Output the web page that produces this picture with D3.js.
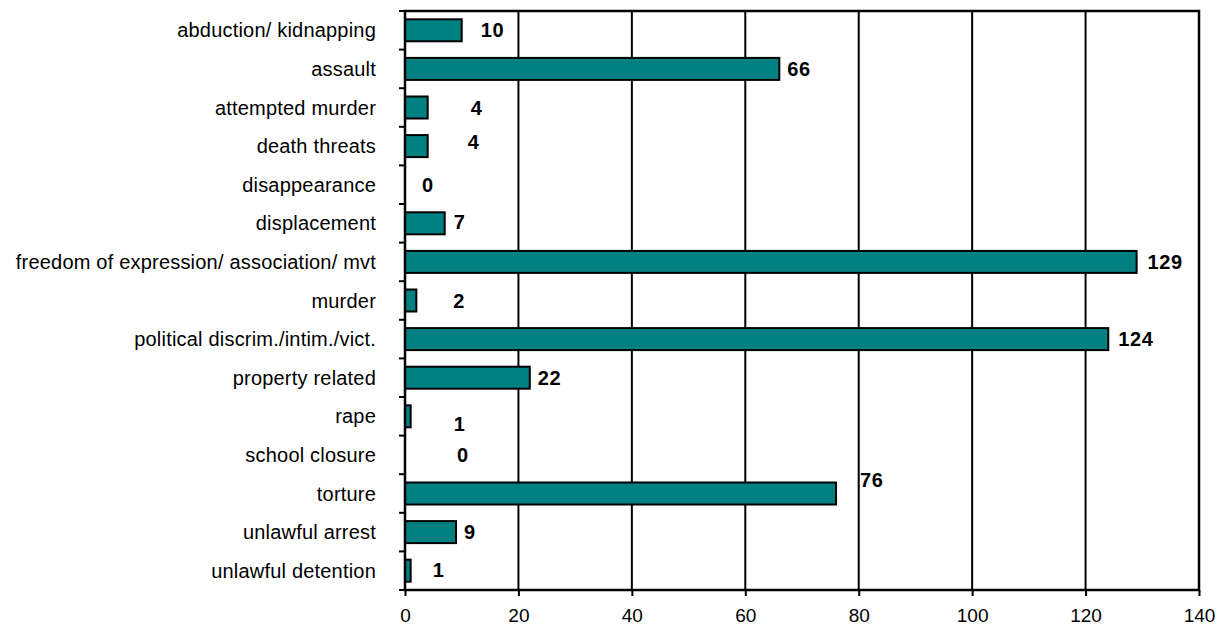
<!DOCTYPE html>
<html lang="en">
<head>
<meta charset="UTF-8">
<title>Incidents by type</title>
<script src="https://d3js.org/d3.v7.min.js"></script>
<style>
    body { margin: 0; background: #fff; }
    svg text { font-family: "Liberation Sans", Arial, sans-serif; fill: #000; }
    .cat { font-size: 20px; letter-spacing: 0.2px; }
    .tick-label { font-size: 19px; }
    .val { font-size: 20px; font-weight: bold; letter-spacing: 0.6px; }
</style>
</head>
<body>
<div id="chart"></div>
<script>
    const categories = [
        "abduction/ kidnapping", "assault", "attempted murder", "death threats",
        "disappearance", "displacement", "freedom of expression/ association/ mvt",
        "murder", "political discrim./intim./vict.", "property related", "rape",
        "school closure", "torture", "unlawful arrest", "unlawful detention"
    ];
    const counts = [10, 66, 4, 4, 0, 7, 129, 2, 124, 22, 1, 0, 76, 9, 1];
    const xTicks = [0, 20, 40, 60, 80, 100, 120, 140];

    // label nudges (px) from the bar end, like the original's hand-placed labels
    const labelNudge = [
        [19, 0], [8, 0], [43, 0], [40, -4], [17, 0], [9, -1], [11, 0], [37, 0],
        [10, 0], [8, 0], [43, 8], [52, 0], [24, -14], [8, 0], [22, -1]
    ];

    const rows = categories.map((c, i) => ({ cat: c, value: counts[i], nudge: labelNudge[i] }));

    const width = 1221, height = 625;
    const margin = { top: 11, right: 22, bottom: 35, left: 405 };

    const svg = d3.select("#chart").append("svg")
        .attr("width", width).attr("height", height);

    const x = d3.scaleLinear().domain([0, 140]).range([margin.left, width - margin.right]);
    const y = d3.scaleBand().domain(categories)
        .range([margin.top, height - margin.bottom])
        .paddingInner(0.43).paddingOuter(0.215);
    const band = d3.scaleBand().domain(categories).range([margin.top, height - margin.bottom]);

    // vertical gridlines
    svg.append("g")
        .selectAll("line")
        .data(xTicks.slice(1, -1))
        .enter().append("line")
        .attr("x1", d => x(d)).attr("x2", d => x(d))
        .attr("y1", margin.top).attr("y2", height - margin.bottom)
        .attr("stroke", "#000").attr("stroke-width", 2);

    // bars
    svg.append("g")
        .selectAll("rect")
        .data(rows.filter(d => d.value > 0))
        .enter().append("rect")
        .attr("x", x(0))
        .attr("y", d => y(d.cat))
        .attr("width", d => x(d.value) - x(0))
        .attr("height", y.bandwidth())
        .attr("fill", "#008080")
        .attr("stroke", "#000").attr("stroke-width", 2);

    // plot frame
    svg.append("rect")
        .attr("x", margin.left).attr("y", margin.top)
        .attr("width", x(140) - x(0))
        .attr("height", height - margin.bottom - margin.top)
        .attr("fill", "none").attr("stroke", "#000").attr("stroke-width", 2.5);

    // bottom axis
    const xAxis = svg.append("g")
        .attr("transform", `translate(0,${height - margin.bottom})`)
        .call(d3.axisBottom(x).tickValues(xTicks).tickSize(6).tickPadding(13));
    xAxis.select(".domain").remove();
    xAxis.selectAll("line").attr("stroke", "#000").attr("stroke-width", 2);
    xAxis.selectAll("text").attr("class", "tick-label").attr("font-family", null).attr("font-size", null);

    // left axis: ticks at category boundaries
    const bounds = categories.map(c => band(c)).concat([height - margin.bottom]);
    svg.append("g")
        .selectAll("line")
        .data(bounds)
        .enter().append("line")
        .attr("x1", x(0) - 6).attr("x2", x(0))
        .attr("y1", d => d).attr("y2", d => d)
        .attr("stroke", "#000").attr("stroke-width", 2);

    svg.append("g")
        .selectAll("text")
        .data(categories)
        .enter().append("text")
        .attr("class", "cat")
        .attr("x", 376)
        .attr("y", d => band(d) + band.bandwidth() / 2)
        .attr("dy", "0.35em")
        .attr("text-anchor", "end")
        .text(d => d);

    // value labels
    svg.append("g")
        .selectAll("text")
        .data(rows)
        .enter().append("text")
        .attr("class", "val")
        .attr("x", d => x(d.value) + d.nudge[0])
        .attr("y", d => band(d.cat) + band.bandwidth() / 2 + d.nudge[1])
        .attr("dy", "0.35em")
        .text(d => d.value);
</script>
</body>
</html>
